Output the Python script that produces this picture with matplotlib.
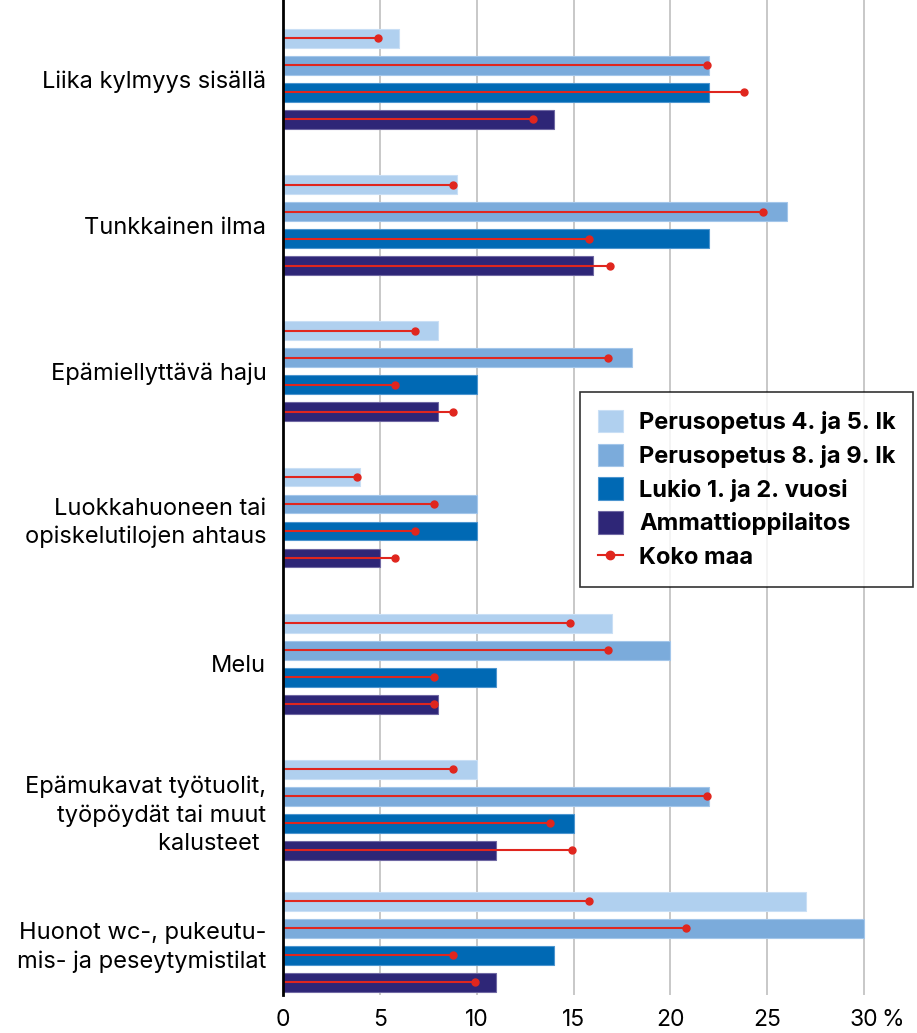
import numpy as np
import matplotlib
matplotlib.use("Agg")
import matplotlib.pyplot as plt
from matplotlib.patches import Patch
from matplotlib.lines import Line2D

plt.rcParams["font.family"] = ["Inter", "DejaVu Sans"]

categories = [
    "Liika kylmyys sisällä",
    "Tunkkainen ilma",
    "Epämiellyttävä haju",
    "Luokkahuoneen tai\nopiskelutilojen ahtaus",
    "Melu",
    "Epämukavat työtuolit,\ntyöpöydät tai muut\nkalusteet ",
    "Huonot wc-, pukeutu-\nmis- ja peseytymistilat",
]
series = ["Perusopetus 4. ja 5. lk", "Perusopetus 8. ja 9. lk",
          "Lukio 1. ja 2. vuosi", "Ammattioppilaitos"]

perus45 = [6, 9, 8, 4, 17, 10, 27]
perus89 = [22, 26, 18, 10, 20, 22, 30]
lukio = [22, 22, 10, 10, 11, 15, 14]
ammatti = [14, 16, 8, 5, 8, 11, 11]

koko_perus45 = [4.9, 8.8, 6.8, 3.8, 14.8, 8.8, 15.8]
koko_perus89 = [21.9, 24.8, 16.8, 7.8, 16.8, 21.9, 20.8]
koko_lukio = [23.8, 15.8, 5.8, 6.8, 7.8, 13.8, 8.8]
koko_ammatti = [12.9, 16.9, 8.8, 5.8, 7.8, 14.9, 9.9]

colors = ["#B0D0EF", "#7BABDB", "#0069B4", "#2E2677"]
edges = ["#C9DFF5", "#A3C6EA", "#4C95CF", "#6F68A3"]
red = "#E0261E"

values = [perus45, perus89, lukio, ammatti]
koko = [koko_perus45, koko_perus89, koko_lukio, koko_ammatti]

# group centres in bar-pitch units; the last group sits a bit closer
centers = np.array([0, 5.415, 10.83, 16.245, 21.66, 27.075, 31.955])
offsets = [-1.5, -0.5, 0.5, 1.5]

fig = plt.figure(figsize=(9.17, 10.33), dpi=100)
ax = fig.add_axes([283 / 917, 1 - 995 / 1033, (30.5 * 19.37) / 917, 995 / 1033])

for i in range(4):
    y = centers + offsets[i]
    ax.barh(y, values[i], height=0.7, color=colors[i], edgecolor=edges[i],
            linewidth=0.8, zorder=2)
    for yy, v in zip(y, koko[i]):
        ax.plot([0, v], [yy, yy], color=red, lw=1.5, zorder=3,
                solid_capstyle="butt")
        ax.plot(v, yy, "o", color=red, ms=5, zorder=4)

ax.set_xlim(0, 30.5)
ax.set_ylim(33.93, -2.92)
ax.set_xticks([0, 5, 10, 15, 20, 25, 30])
ax.set_xticklabels(["0", "5", "10", "15", "20", "25", "30"], fontsize=16.5)
ax.annotate("%", xy=(31.5, 0), xycoords=ax.get_xaxis_transform(),
            xytext=(0, -10), textcoords="offset points", ha="center",
            va="top", fontsize=16.5, annotation_clip=False)
ax.tick_params(axis="x", length=0, pad=10)
ax.set_yticks(centers)
ax.set_yticklabels(categories, fontsize=17)
for lab in ax.get_yticklabels():
    lab.set_linespacing(1.35)
ax.tick_params(axis="y", length=0, pad=12)

ax.grid(axis="x", color="#C4C4C4", lw=1.3, zorder=0)
ax.set_axisbelow(True)
for s in ["top", "right", "bottom"]:
    ax.spines[s].set_visible(False)
ax.spines["left"].set_linewidth(2)
ax.spines["left"].set_zorder(5)

handles = [Patch(facecolor=c, edgecolor=e, lw=0.8) for c, e in zip(colors, edges)]
handles.append(Line2D([0], [0], color=red, lw=1.5, marker="o", ms=6,
                      markevery=[1]))
leg = ax.legend(handles, series + ["Koko maa"], loc="upper left",
                bbox_to_anchor=(580 / 917, 1 - 392 / 1033),
                bbox_transform=fig.transFigure, borderaxespad=0,
                prop={"weight": "bold", "size": 17}, frameon=True,
                fancybox=False, borderpad=0.75, handlelength=1.05,
                handleheight=1.1, handletextpad=0.7, labelspacing=0.4)
leg.get_frame().set_edgecolor("black")
leg.get_frame().set_linewidth(1.2)

fig.savefig("out.png", dpi=100)
